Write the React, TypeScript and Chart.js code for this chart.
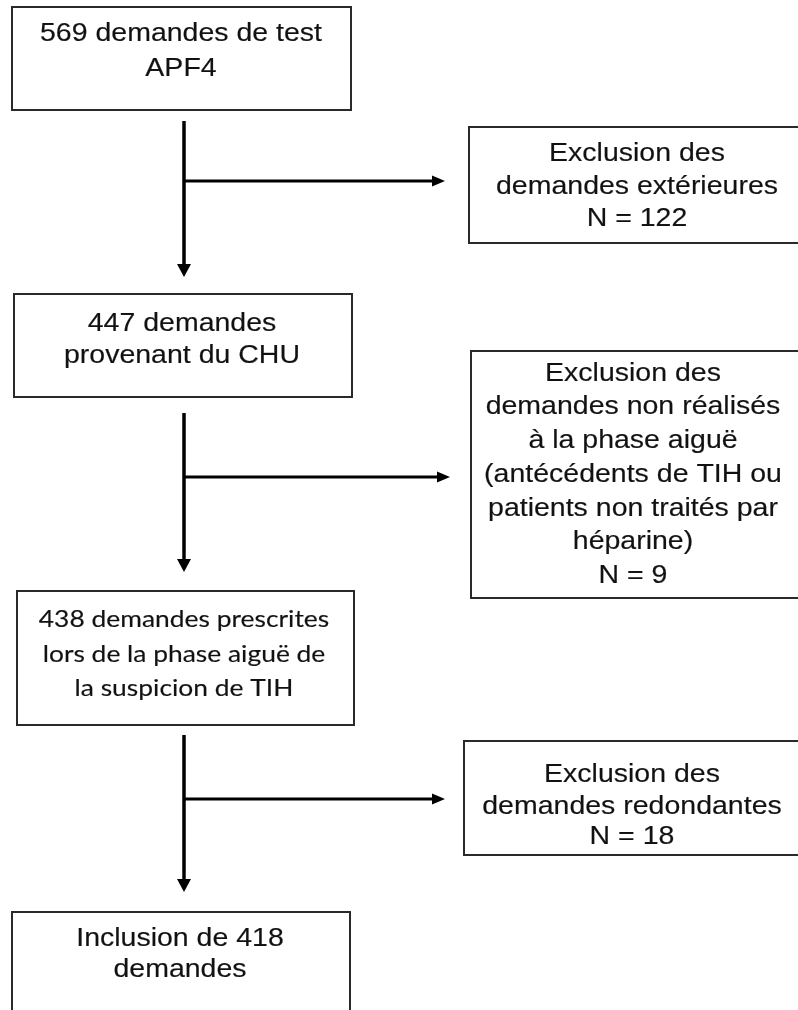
import React, { useEffect, useRef } from "react";
import { Chart, registerables } from "chart.js";

Chart.register(...registerables);

// ---- Data ----
const stepCounts = [569, 447, 438, 418];
const exclusionCounts = [122, 9, 18];

const stepText: string[][] = [
  [`${stepCounts[0]} demandes de test`, "APF4"],
  [`${stepCounts[1]} demandes`, "provenant du CHU"],
  [`${stepCounts[2]} demandes prescrites`, "lors de la phase aiguë de", "la suspicion de TIH"],
  [`Inclusion de ${stepCounts[3]}`, "demandes"],
];

const exclusionText: string[][] = [
  ["Exclusion des", "demandes extérieures", `N = ${exclusionCounts[0]}`],
  [
    "Exclusion des",
    "demandes non réalisés",
    "à la phase aiguë",
    "(antécédents de TIH ou",
    "patients non traités par",
    "héparine)",
    `N = ${exclusionCounts[1]}`,
  ],
  ["Exclusion des", "demandes redondantes", `N = ${exclusionCounts[2]}`],
];

// ---- Layout (data-space units of the hidden linear scales) ----
const HELV = "'Liberation Sans', Arial, sans-serif";
const CALI = "Lato, 'Open Sans', sans-serif";

type Box = { x0: number; x1: number; y0: number; y1: number; cx: number; lineY: number[]; fonts: string[] };

const stepLayout: Box[] = [
  { x0: 12, x1: 351, y0: 7, y1: 110, cx: 181, lineY: [32, 67], fonts: [HELV, HELV] },
  { x0: 14, x1: 352, y0: 294, y1: 397, cx: 182, lineY: [322, 354], fonts: [HELV, HELV] },
  { x0: 17, x1: 354, y0: 591, y1: 725, cx: 184, lineY: [618, 653, 687], fonts: [CALI, CALI, CALI] },
  { x0: 12, x1: 350, y0: 912, y1: 1030, cx: 180, lineY: [937, 968], fonts: [HELV, HELV] },
];

const exclusionLayout: Box[] = [
  { x0: 469, x1: 820, y0: 127, y1: 243, cx: 637, lineY: [152, 185, 217], fonts: [HELV, HELV, HELV] },
  {
    x0: 471, x1: 820, y0: 351, y1: 598, cx: 633,
    lineY: [372, 405, 439, 473, 507, 540, 574],
    fonts: [HELV, HELV, HELV, HELV, HELV, HELV, HELV],
  },
  { x0: 464, x1: 820, y0: 741, y1: 855, cx: 632, lineY: [773, 805, 835], fonts: [HELV, HELV, HELV] },
];

// vertical arrow: x, start y, tip y ; branch: y, tip x
const arrowLayout = [
  { x: 184, y0: 121, y1: 277, by: 181, bx: 445 },
  { x: 184, y0: 413, y1: 572, by: 477, bx: 450 },
  { x: 184, y0: 735, y1: 892, by: 799, bx: 445 },
];

const FONT_SIZE = 25;
const STRETCH = 1.14;

const flowPlugin = {
  id: "flowchart",
  afterDraw(chart: any) {
    const ctx: CanvasRenderingContext2D = chart.ctx;
    const sx = chart.scales.x;
    const sy = chart.scales.y;
    const px = (v: number) => sx.getPixelForValue(v);
    const py = (v: number) => sy.getPixelForValue(v);

    const drawBox = (b: Box, lines: string[]) => {
      ctx.save();
      ctx.strokeStyle = "#2a2a2a";
      ctx.lineWidth = 2;
      ctx.strokeRect(px(b.x0), py(b.y0), px(b.x1) - px(b.x0), py(b.y1) - py(b.y0));
      ctx.restore();
      lines.forEach((t, i) => {
        const font = b.fonts[i] || HELV;
        const isCali = font === CALI;
        const size = isCali ? 24 : FONT_SIZE;
        const stretch = isCali ? 1.1 : STRETCH;
        ctx.save();
        ctx.translate(px(b.cx), py(b.lineY[i]));
        ctx.scale(stretch, 1);
        ctx.font = `${size}px ${font}`;
        ctx.fillStyle = "#111";
        ctx.strokeStyle = "#333";
        ctx.lineWidth = 0.2;
        ctx.textAlign = "center";
        ctx.textBaseline = "alphabetic";
        ctx.fillText(t, 0, size * 0.36);
        ctx.strokeText(t, 0, size * 0.36);
        ctx.restore();
      });
    };

    stepLayout.forEach((b, i) => drawBox(b, stepText[i]));
    exclusionLayout.forEach((b, i) => drawBox(b, exclusionText[i]));

    ctx.save();
    ctx.strokeStyle = "#000";
    ctx.fillStyle = "#000";
    arrowLayout.forEach((a) => {
      const x = px(a.x);
      // vertical shaft
      ctx.lineWidth = 3.5;
      ctx.beginPath();
      ctx.moveTo(x, py(a.y0));
      ctx.lineTo(x, py(a.y1) - 10);
      ctx.stroke();
      // vertical head
      ctx.beginPath();
      ctx.moveTo(x - 7, py(a.y1) - 13);
      ctx.lineTo(x + 7, py(a.y1) - 13);
      ctx.lineTo(x, py(a.y1));
      ctx.closePath();
      ctx.fill();
      // branch
      const by = py(a.by);
      const bx = px(a.bx);
      ctx.lineWidth = 3;
      ctx.beginPath();
      ctx.moveTo(x, by);
      ctx.lineTo(bx - 10, by);
      ctx.stroke();
      ctx.beginPath();
      ctx.moveTo(bx - 13, by - 5.5);
      ctx.lineTo(bx - 13, by + 5.5);
      ctx.lineTo(bx, by);
      ctx.closePath();
      ctx.fill();
    });
    ctx.restore();
  },
};

export default function App() {
  const ref = useRef<HTMLCanvasElement | null>(null);

  useEffect(() => {
    document.body.style.margin = "0";
    const canvas = ref.current;
    if (!canvas) return;
    const chart = new Chart(canvas, {
      type: "scatter",
      data: { datasets: [{ data: [], pointRadius: 0 }] },
      options: {
        animation: false,
        responsive: false,
        maintainAspectRatio: false,
        devicePixelRatio: 1,
        layout: { padding: 0 },
        plugins: { legend: { display: false }, tooltip: { enabled: false } },
        scales: {
          x: { type: "linear", min: 0, max: 798, display: false },
          y: { type: "linear", min: 0, max: 1010, reverse: true, display: false },
        },
      },
      plugins: [flowPlugin],
    });
    return () => chart.destroy();
  }, []);

  return (
    <div style={{ width: 798, height: 1010, background: "#fff" }}>
      <canvas ref={ref} width={798} height={1010} style={{ display: "block" }} />
    </div>
  );
}
